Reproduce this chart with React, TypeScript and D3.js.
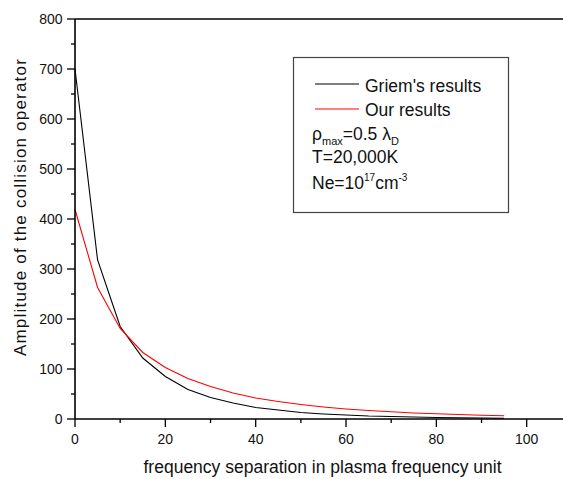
import * as d3 from "d3";
import React from "react";

// frequency separation (plasma frequency units)
const freq = [0, 5, 10, 15, 20, 25, 30, 35, 40, 45, 50, 55, 60, 65, 70, 75, 80, 85, 90, 95];
// Griem's results
const griem = [700, 318, 185, 122, 85, 59, 43, 32, 23, 18, 13, 10, 8, 6, 5, 4, 3, 2.5, 2, 1.5];
// our results
const ours = [419, 263, 181, 133, 103, 81, 65, 52, 42, 35, 29, 24, 20, 17, 14.5, 12, 10.5, 9, 7.5, 6.5];

const xMajor = [0, 20, 40, 60, 80, 100];
const xMinor = [10, 30, 50, 70, 90];
const yMajor = [0, 100, 200, 300, 400, 500, 600, 700, 800];
const yMinor = [50, 150, 250, 350, 450, 550, 650, 750];

const W = 563;
const H = 479;
const FONT = "Liberation Sans, Arial, Helvetica, sans-serif";

export default function App() {
  const x = d3.scaleLinear().domain([0, 100]).range([75, 526.7]);
  const y = d3.scaleLinear().domain([0, 800]).range([419, 19]);

  const line = d3
    .line<number>()
    .x((_, i) => x(freq[i]))
    .y((d) => y(d));

  const x0 = x(0);
  const yb = y(0);

  return (
    <svg
      width={W}
      height={H}
      style={{ position: "absolute", left: 0, top: 0, background: "#fff" }}
      fontFamily={FONT}
    >
      <rect width={W} height={H} fill="#fff" />

      {/* data */}
      <path d={line(griem) || ""} fill="none" stroke="#000" strokeWidth={1.1} />
      <path d={line(ours) || ""} fill="none" stroke="#ff0000" strokeWidth={1.1} />

      {/* frame lines */}
      <line x1={x0} x2={W} y1={y(800)} y2={y(800)} stroke="#000" strokeWidth={1.6} />
      <line x1={x0} x2={W} y1={yb} y2={yb} stroke="#000" strokeWidth={1.6} />
      <line x1={x0} x2={x0} y1={y(800)} y2={yb} stroke="#000" strokeWidth={1.6} />

      {/* y ticks */}
      {yMajor.map((v) => (
        <g key={"ym" + v}>
          <line x1={x0 - 8} x2={x0} y1={y(v)} y2={y(v)} stroke="#000" strokeWidth={1.3} />
          <text x={62.5} y={y(v) + 5} textAnchor="end" fontSize={14} fill="#111">
            {v}
          </text>
        </g>
      ))}
      {yMinor.map((v) => (
        <line key={"yn" + v} x1={x0 - 4} x2={x0} y1={y(v)} y2={y(v)} stroke="#000" strokeWidth={1.3} />
      ))}

      {/* x ticks */}
      {xMajor.map((v) => (
        <g key={"xm" + v}>
          <line x1={x(v)} x2={x(v)} y1={yb} y2={yb + 8} stroke="#000" strokeWidth={1.3} />
          <text x={x(v)} y={443.5} textAnchor="middle" fontSize={14} fill="#111">
            {v}
          </text>
        </g>
      ))}
      {xMinor.map((v) => (
        <line key={"xn" + v} x1={x(v)} x2={x(v)} y1={yb} y2={yb + 4} stroke="#000" strokeWidth={1.3} />
      ))}

      {/* axis titles */}
      <text x={322.5} y={473} textAnchor="middle" fontSize={17.5} fill="#111">
        frequency separation in plasma frequency unit
      </text>
      <text
        transform="translate(25.5,207) rotate(-90)"
        textAnchor="middle"
        fontSize={17}
        letterSpacing={1.2}
        fill="#111"
      >
        Amplitude of the collision operator
      </text>

      {/* legend */}
      <rect x={293.5} y={57.5} width={215} height={155} fill="#fff" stroke="#444" strokeWidth={1.2} />
      <line x1={315} x2={359} y1={84} y2={84} stroke="#000" strokeWidth={1.1} />
      <text x={365} y={91.5} fontSize={17.5} fill="#111">
        Griem's results
      </text>
      <line x1={315} x2={359} y1={109} y2={109} stroke="#ff0000" strokeWidth={1.1} />
      <text x={365} y={115.5} fontSize={17.5} fill="#111">
        Our results
      </text>
      <text x={312} y={140} fontSize={17.5} fill="#111">
        ρ
        <tspan fontSize={11} dy={5}>max</tspan>
        <tspan dy={-5}>=0.5 λ</tspan>
        <tspan fontSize={11} dy={5}>D</tspan>
      </text>
      <text x={312} y={163} fontSize={17.5} fill="#111">
        T=20,000K
      </text>
      <text x={312} y={189} fontSize={17.5} fill="#111">
        Ne=10
        <tspan fontSize={10} dy={-8}>17</tspan>
        <tspan dy={8}>cm</tspan>
        <tspan fontSize={10} dy={-8}>-3</tspan>
      </text>
    </svg>
  );
}
